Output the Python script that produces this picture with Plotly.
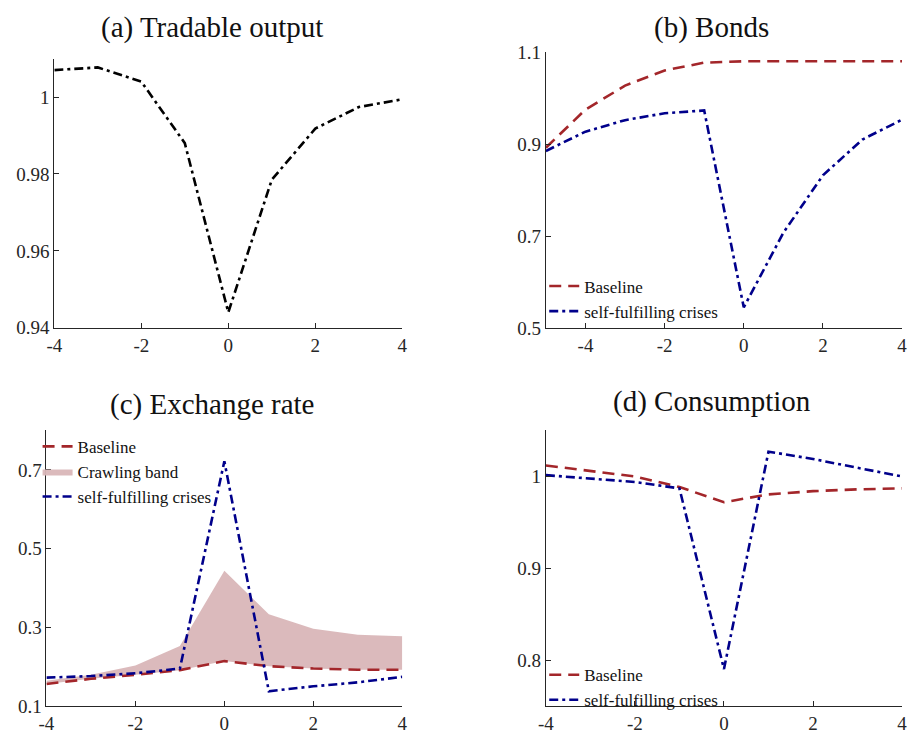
import plotly.graph_objects as go

# ---------------- data ----------------
x_a = [-4, -3, -2, -1, 0, 1, 2, 3, 4]
tradable_output = [1.0070, 1.0077, 1.0040, 0.9880, 0.9440, 0.9785, 0.9918, 0.9974, 0.9994]

x_b = [-5, -4, -3, -2, -1, 0, 1, 2, 3, 4]
bonds_baseline = [0.892, 0.975, 1.027, 1.060, 1.077, 1.080, 1.080, 1.080, 1.080, 1.080]
bonds_crisis = [0.885, 0.927, 0.952, 0.967, 0.973, 0.545, 0.707, 0.832, 0.910, 0.953]

x_c = [-4, -3, -2, -1, 0, 1, 2, 3, 4]
fx_baseline = [0.157, 0.170, 0.180, 0.192, 0.215, 0.202, 0.196, 0.193, 0.193]
fx_band_upper = [0.165, 0.180, 0.204, 0.253, 0.444, 0.334, 0.297, 0.282, 0.278]
fx_crisis = [0.173, 0.177, 0.184, 0.196, 0.722, 0.1385, 0.151, 0.161, 0.175]

x_d = [-4, -3, -2, -1, 0, 1, 2, 3, 4]
cons_baseline = [1.0119, 1.006, 1.000, 0.9885, 0.972, 0.9805, 0.984, 0.986, 0.987]
cons_crisis = [1.0014, 0.998, 0.994, 0.987, 0.7906, 1.027, 1.019, 1.0094, 1.000]

titles = ["(a) Tradable output", "(b) Bonds", "(c) Exchange rate", "(d) Consumption"]
legend_names = ["Baseline", "Crawling band", "self-fulfilling crises"]

xt_vals = [-4, -2, 0, 2, 4]
xt_text = ["-4", "-2", "0", "2", "4"]
yt_a = [0.94, 0.96, 0.98, 1.0]; yt_a_text = ["0.94", "0.96", "0.98", "1"]
yt_b = [0.5, 0.7, 0.9, 1.1]; yt_b_text = ["0.5", "0.7", "0.9", "1.1"]
yt_c = [0.1, 0.3, 0.5, 0.7]; yt_c_text = ["0.1", "0.3", "0.5", "0.7"]
yt_d = [0.8, 0.9, 1.0]; yt_d_text = ["0.8", "0.9", "1"]

# ---------------- style ----------------
W, H = 910, 742
RED = "#A3262A"
BLUE = "#00008B"
BAND = "rgba(217,182,184,0.95)"
AXC = "#262626"
TICKFONT = dict(family="Liberation Serif", size=19, color=AXC)
LEGFONT = dict(family="Liberation Serif", size=17, color="#111111")
TITLEFONT = dict(family="Liberation Serif", size=29, color="#111111")
DASH = "12px,7px"
DASHDOT = "9px,4px,3px,4px"
LW = 2.6


def px_x(a, b):
    return [a / W, b / W]


def px_y(top, bottom):
    return [1 - bottom / H, 1 - top / H]


fig = go.Figure()

# (a)
fig.add_trace(go.Scatter(x=x_a, y=tradable_output, mode="lines", xaxis="x", yaxis="y",
                         line=dict(color="black", width=LW, dash=DASHDOT), showlegend=False))
# (b)
fig.add_trace(go.Scatter(x=x_b, y=bonds_baseline, mode="lines", xaxis="x2", yaxis="y2",
                         name=legend_names[0], legend="legend",
                         line=dict(color=RED, width=LW, dash=DASH)))
fig.add_trace(go.Scatter(x=x_b, y=bonds_crisis, mode="lines", xaxis="x2", yaxis="y2",
                         name=legend_names[2], legend="legend",
                         line=dict(color=BLUE, width=LW, dash=DASHDOT)))
# (c)
fig.add_trace(go.Scatter(x=x_c, y=fx_baseline, mode="lines", xaxis="x3", yaxis="y3",
                         line=dict(width=0, color=BAND), showlegend=False, hoverinfo="skip"))
fig.add_trace(go.Scatter(x=x_c, y=fx_band_upper, mode="lines", xaxis="x3", yaxis="y3",
                         fill="tonexty", fillcolor=BAND, line=dict(width=0, color=BAND),
                         name=legend_names[1], legend="legend2", legendrank=2))
fig.add_trace(go.Scatter(x=x_c, y=fx_baseline, mode="lines", xaxis="x3", yaxis="y3",
                         name=legend_names[0], legend="legend2", legendrank=1,
                         line=dict(color=RED, width=LW, dash=DASH)))
fig.add_trace(go.Scatter(x=x_c, y=fx_crisis, mode="lines", xaxis="x3", yaxis="y3",
                         name=legend_names[2], legend="legend2", legendrank=3,
                         line=dict(color=BLUE, width=LW, dash=DASHDOT)))
# (d)
fig.add_trace(go.Scatter(x=x_d, y=cons_baseline, mode="lines", xaxis="x4", yaxis="y4",
                         name=legend_names[0], legend="legend3",
                         line=dict(color=RED, width=LW, dash=DASH)))
fig.add_trace(go.Scatter(x=x_d, y=cons_crisis, mode="lines", xaxis="x4", yaxis="y4",
                         name=legend_names[2], legend="legend3",
                         line=dict(color=BLUE, width=LW, dash=DASHDOT)))


def xax(dom, rng, anchor):
    return dict(domain=dom, range=rng, anchor=anchor, tickvals=xt_vals, ticktext=xt_text,
                ticks="inside", ticklen=5, tickcolor=AXC, showline=True, linecolor=AXC,
                linewidth=1, showgrid=False, zeroline=False, tickfont=TICKFONT,
                fixedrange=True)


def yax(dom, rng, anchor, tv, tt):
    return dict(domain=dom, range=rng, anchor=anchor, tickvals=tv, ticktext=tt,
                ticks="inside", ticklen=5, tickcolor=AXC, showline=True, linecolor=AXC,
                linewidth=1, showgrid=False, zeroline=False, tickfont=TICKFONT,
                fixedrange=True)


LEG = dict(font=LEGFONT, bgcolor="rgba(0,0,0,0)", borderwidth=0, itemwidth=30,
           tracegroupgap=0, xanchor="left", yanchor="top", traceorder="normal")

fig.update_layout(
    width=W, height=H, margin=dict(l=0, r=0, t=0, b=0),
    paper_bgcolor="white", plot_bgcolor="white",
    xaxis=xax(px_x(47, 400), [-4, 4], "y"),
    yaxis=yax(px_y(50, 327), [0.94, 1.01], "x", yt_a, yt_a_text),
    xaxis2=xax(px_x(545.7, 907), [-5, 4], "y2"),
    yaxis2=yax(px_y(43.3, 327.3), [0.5, 1.1], "x2", yt_b, yt_b_text),
    xaxis3=xax(px_x(39, 400), [-4, 4], "y3"),
    yaxis3=yax(px_y(432.7, 716.7), [0.1, 0.8], "x3", yt_c, yt_c_text),
    xaxis4=xax(px_x(545.7, 907), [-4, 4], "y4"),
    yaxis4=yax(px_y(432.7, 716.7), [0.75, 1.05], "x4", yt_d, yt_d_text),
    legend=dict(LEG, x=544 / W, y=1 - 266 / H),
    legend2=dict(LEG, x=30 / W, y=1 - 431 / H),
    legend3=dict(LEG, x=544 / W, y=1 - 666 / H),
)

title_pos = [(207, 18), (714, 18), (207, 406), (714, 403)]
for t, (cx, cy) in zip(titles, title_pos):
    fig.add_annotation(text=t, x=cx / W, y=1 - cy / H, xref="paper", yref="paper",
                       xanchor="center", yanchor="middle", showarrow=False, font=TITLEFONT)

fig.write_html("out.html")
